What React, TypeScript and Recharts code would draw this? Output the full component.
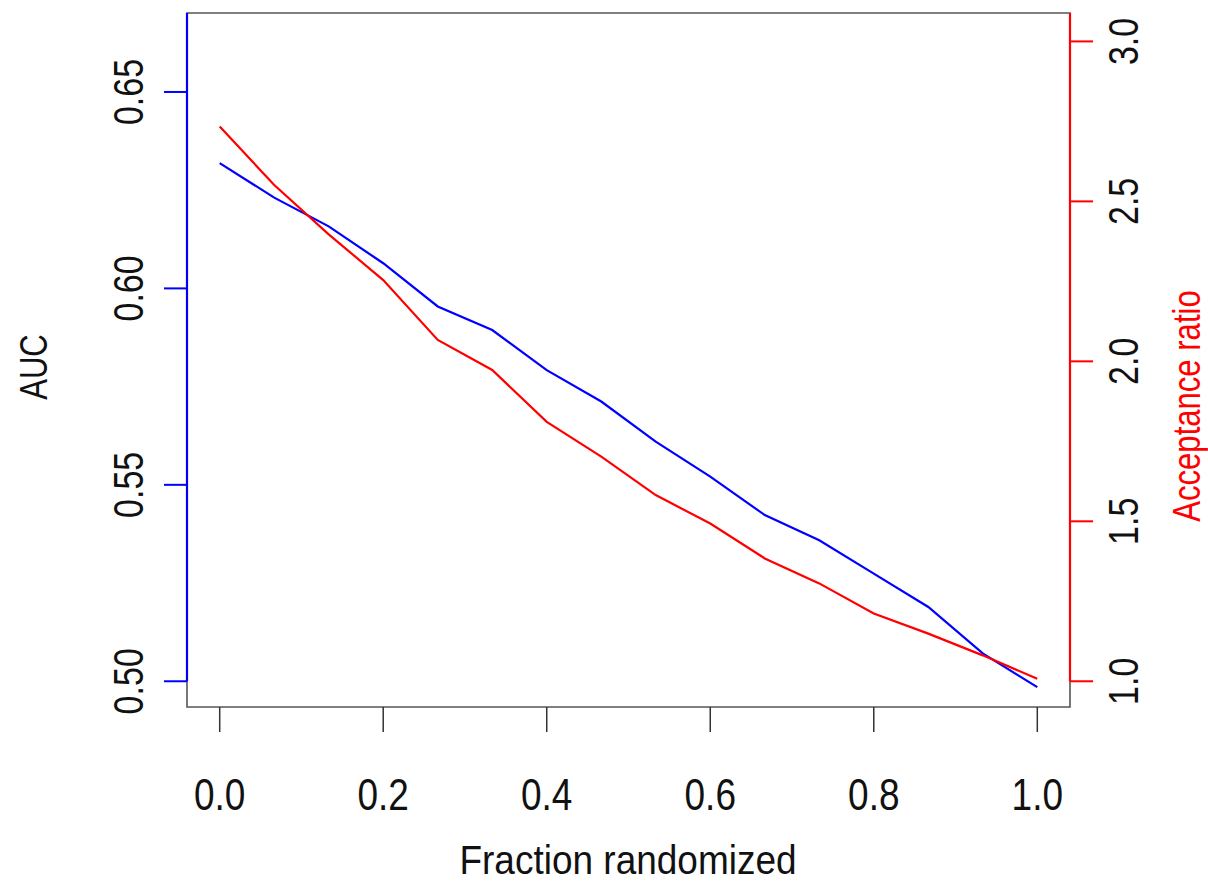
import { LineChart, Line, XAxis, YAxis, ReferenceArea, ReferenceLine } from 'recharts';

// x positions: fraction of labels randomized (0 .. 1 in 15 steps)
const fractions = [
    0, 0.0667, 0.1333, 0.2, 0.2667, 0.3333, 0.4, 0.4667, 0.5333, 0.6, 0.6667, 0.7333, 0.8,
    0.8667, 0.9333, 1,
];
const aucValues = [
    0.6319, 0.6231, 0.6158, 0.6064, 0.5954, 0.5894, 0.5792, 0.5712, 0.561, 0.5521, 0.5423,
    0.5359, 0.5274, 0.5189, 0.5071, 0.4985,
];
const acceptanceValues = [
    2.734, 2.551, 2.397, 2.254, 2.067, 1.973, 1.811, 1.702, 1.582, 1.493, 1.384, 1.306, 1.212,
    1.149, 1.081, 1.008,
];

const xTicks = [0, 0.2, 0.4, 0.6, 0.8, 1];
const aucTicks = [0.5, 0.55, 0.6, 0.65];
const accTicks = [1, 1.5, 2, 2.5, 3];

const X_DOMAIN: [number, number] = [-0.04, 1.04];
const AUC_DOMAIN: [number, number] = [0.49345, 0.6701];
const ACC_DOMAIN: [number, number] = [0.9196, 3.0888];

const FONT = '"Liberation Sans", Arial, Helvetica, sans-serif';
const FS = 37;

const data = fractions.map((x, i) => ({
    x,
    auc: aucValues[i],
    acc: acceptanceValues[i],
}));

// the source font is narrower and taller than Liberation Sans, so stretch a bit
const XTick = ({ x, y, payload }: any) => (
    <text
        transform={`translate(${x},${y + 78}) scale(1,1.2)`}
        textAnchor="middle"
        fontFamily={FONT}
        fontSize={FS}
        fill="#111"
    >
        {Number(payload.value).toFixed(1)}
    </text>
);

const LeftTick = ({ x, y, payload }: any) => (
    <text
        transform={`translate(${x - 21},${y}) rotate(-90) scale(0.92,1.13)`}
        textAnchor="middle"
        fontFamily={FONT}
        fontSize={FS}
        fill="#111"
    >
        {Number(payload.value).toFixed(2)}
    </text>
);

const RightTick = ({ x, y, payload }: any) => (
    <text
        transform={`translate(${x + 45},${y}) rotate(-90) scale(0.92,1.13)`}
        textAnchor="middle"
        fontFamily={FONT}
        fontSize={FS}
        fill="#111"
    >
        {Number(payload.value).toFixed(1)}
    </text>
);

export default function App() {
    return (
        <div style={{ position: 'absolute', left: 0, top: 0, width: 1208, height: 882, background: '#fff' }}>
            <LineChart
                width={1208}
                height={882}
                data={data}
                margin={{ top: 13, right: 0, bottom: 0, left: 0 }}
            >
                <XAxis
                    dataKey="x"
                    type="number"
                    domain={X_DOMAIN}
                    ticks={xTicks}
                    allowDataOverflow
                    height={175}
                    axisLine={false}
                    tickSize={25}
                    tickMargin={0}
                    tickLine={{ stroke: '#333', strokeWidth: 1.5 }}
                    tick={<XTick />}
                />
                <YAxis
                    yAxisId="auc"
                    orientation="left"
                    type="number"
                    domain={AUC_DOMAIN}
                    ticks={aucTicks}
                    allowDataOverflow
                    width={187}
                    axisLine={false}
                    tickSize={23}
                    tickMargin={0}
                    tickLine={{ stroke: '#0000ff', strokeWidth: 2 }}
                    tick={<LeftTick />}
                />
                <YAxis
                    yAxisId="acc"
                    orientation="right"
                    type="number"
                    domain={ACC_DOMAIN}
                    ticks={accTicks}
                    allowDataOverflow
                    width={138}
                    axisLine={false}
                    tickSize={23}
                    tickMargin={0}
                    tickLine={{ stroke: '#ff0000', strokeWidth: 2 }}
                    tick={<RightTick />}
                />
                <ReferenceArea
                    yAxisId="auc"
                    x1={X_DOMAIN[0]}
                    x2={X_DOMAIN[1]}
                    y1={AUC_DOMAIN[0]}
                    y2={AUC_DOMAIN[1]}
                    fill="none"
                    fillOpacity={0}
                    stroke="#555"
                    strokeWidth={1.6}
                    ifOverflow="visible"
                />
                <ReferenceLine
                    yAxisId="auc"
                    segment={[
                        { x: X_DOMAIN[0], y: AUC_DOMAIN[1] },
                        { x: X_DOMAIN[0], y: 0.5 },
                    ]}
                    stroke="#0000ff"
                    strokeWidth={2.2}
                    ifOverflow="visible"
                />
                <ReferenceLine
                    yAxisId="acc"
                    segment={[
                        { x: X_DOMAIN[1], y: ACC_DOMAIN[1] },
                        { x: X_DOMAIN[1], y: 1 },
                    ]}
                    stroke="#ff0000"
                    strokeWidth={2.2}
                    ifOverflow="visible"
                />
                <Line
                    yAxisId="auc"
                    dataKey="auc"
                    type="linear"
                    stroke="#0000ff"
                    strokeWidth={2.2}
                    dot={false}
                    isAnimationActive={false}
                />
                <Line
                    yAxisId="acc"
                    dataKey="acc"
                    type="linear"
                    stroke="#ff0000"
                    strokeWidth={2.2}
                    dot={false}
                    isAnimationActive={false}
                />
            </LineChart>
            <svg
                width={1208}
                height={882}
                style={{ position: 'absolute', left: 0, top: 0, pointerEvents: 'none' }}
            >
                <text
                    transform="translate(628,874) scale(1,1.12)"
                    textAnchor="middle"
                    fontFamily={FONT}
                    fontSize={FS}
                    fill="#111"
                >
                    Fraction randomized
                </text>
                <text
                    transform="translate(47,367) rotate(-90) scale(0.84,1.03)"
                    textAnchor="middle"
                    fontFamily={FONT}
                    fontSize={FS}
                    fill="#111"
                >
                    AUC
                </text>
                <text
                    transform="translate(1200,406) rotate(-90) scale(0.84,1.03)"
                    textAnchor="middle"
                    fontFamily={FONT}
                    fontSize={FS}
                    fill="#ff0000"
                >
                    Acceptance ratio
                </text>
            </svg>
        </div>
    );
}
